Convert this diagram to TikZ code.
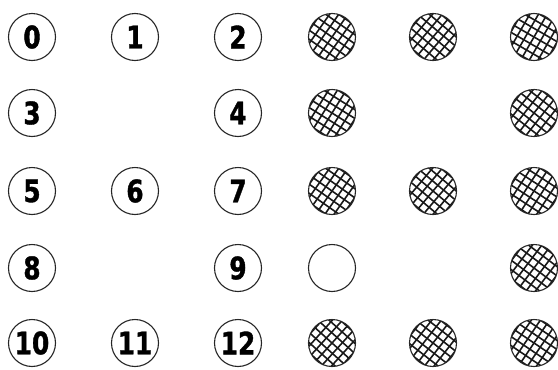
\documentclass[tikz,border=0pt]{standalone}
\usepackage{fontspec}
\setmainfont{DejaVu Sans}
\newfontfamily\numfont{DejaVu Sans}[FakeStretch=0.8,FakeBold=1.2]
\usetikzlibrary{calc}
\tikzset{
  ring/.style={circle, draw=black!85, line width=1.1pt, minimum size=47pt, inner sep=0pt},
  numring/.style={ring, font=\numfont\bfseries\fontsize{31}{31}\selectfont},
  hatchline/.style={line width=1.6pt, black!90},
  hatched/.style={ring, path picture={
    \coordinate (pc) at (path picture bounding box.center);
    \foreach \i in {-30,-22.5,...,30}{
      \draw[hatchline] ($(pc)+(#1:\i pt)+(#1-90:30pt)$) -- ($(pc)+(#1:\i pt)+(#1+90:30pt)$);
      \draw[hatchline] ($(pc)+(#1-90:\i pt)+(#1:30pt)$) -- ($(pc)+(#1-90:\i pt)+(#1+180:30pt)$);
    }
  }},
}
\begin{document}
\begin{tikzpicture}[x=1pt,y=1pt]
\useasboundingbox (0,0) rectangle (558,-370);
% numbered circles
\node[numring] (n0)  at (32,-37)  {0};
\node[numring] (n1)  at (135,-37) {1};
\node[numring] (n2)  at (238,-37) {2};
\node[numring] (n3)  at (32,-113) {3};
\node[numring] (n4)  at (238,-113){4};
\node[numring] (n5)  at (32,-191) {5};
\node[numring] (n6)  at (135,-191){6};
\node[numring] (n7)  at (238,-191){7};
\node[numring] (n8)  at (32,-268) {8};
\node[numring] (n9)  at (238,-268){9};
\node[numring] (n10) at (32,-343) {10};
\node[numring] (n11) at (135,-343){11};
\node[numring] (n12) at (238,-343){12};
% hatched circles
\node[hatched=55] (h1)  at (332,-37)  {};
\node[hatched=50] (h2)  at (433,-37)  {};
\node[hatched=60] (h3)  at (534,-37)  {};
\node[hatched=58] (h4)  at (332,-113) {};
\node[hatched=52] (h5)  at (534,-113) {};
\node[hatched=55] (h6)  at (332,-191) {};
\node[hatched=50] (h7)  at (433,-191) {};
\node[hatched=57] (h8)  at (534,-191) {};
\node[ring]       (e9)  at (332,-268) {};
\node[hatched=53] (h10) at (534,-268) {};
\node[hatched=48] (h11) at (332,-343) {};
\node[hatched=52] (h12) at (433,-343) {};
\node[hatched=56] (h13) at (534,-343) {};
\end{tikzpicture}
\end{document}
